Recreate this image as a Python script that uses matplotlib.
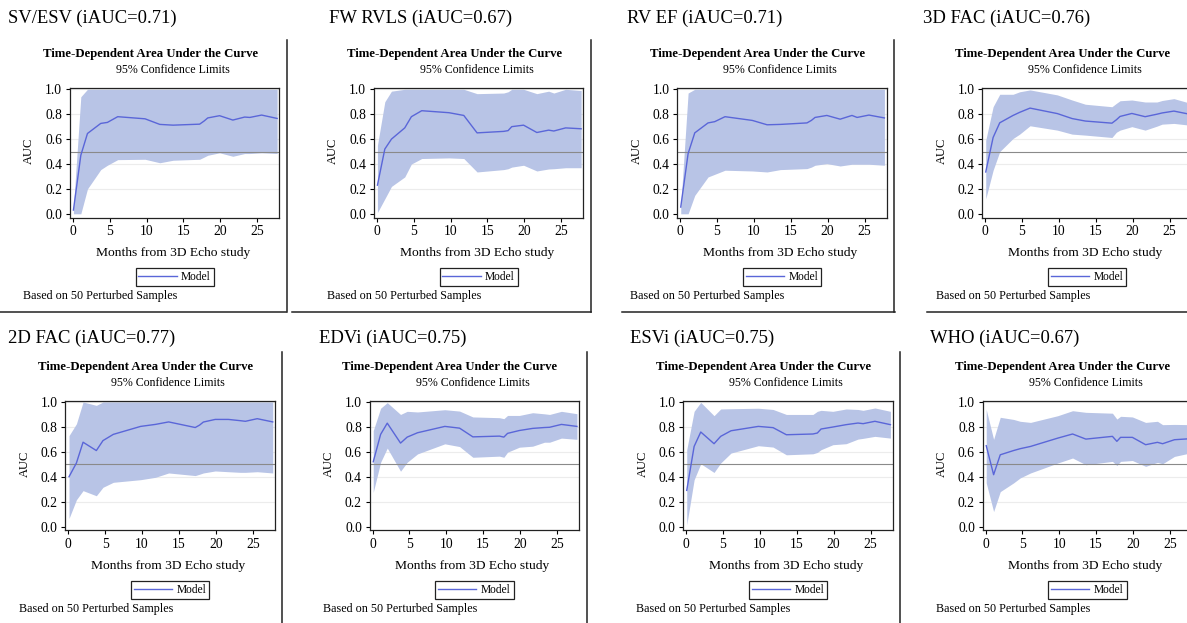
import matplotlib
matplotlib.use("Agg")
import matplotlib.pyplot as plt
from matplotlib.lines import Line2D

plt.rcParams['font.family'] = ['Liberation Serif', 'DejaVu Serif']

# ---------------- data ----------------
months = [0.1, 1.1, 2.0, 3.8, 4.7, 6.1, 9.8, 11.8, 13.6, 17.2, 17.8, 18.3, 19.9, 21.7, 23.3, 24.0, 25.6, 27.7]

titles = ["SV/ESV (iAUC=0.71)", "FW RVLS (iAUC=0.67)", "RV EF (iAUC=0.71)", "3D FAC (iAUC=0.76)",
          "2D FAC (iAUC=0.77)", "EDVi (iAUC=0.75)", "ESVi (iAUC=0.75)", "WHO (iAUC=0.67)"]

sv_esv_auc = [0.03, 0.47, 0.645, 0.726, 0.734, 0.78, 0.763, 0.718, 0.712, 0.72, 0.745, 0.77, 0.788, 0.753, 0.777, 0.774, 0.793, 0.766]
sv_esv_lo = [0.0, 0.0, 0.20, 0.355, 0.39, 0.435, 0.438, 0.41, 0.43, 0.438, 0.455, 0.47, 0.49, 0.462, 0.484, 0.484, 0.49, 0.484]
sv_esv_hi = [0.05, 0.94, 1.0, 1.0, 1.0, 1.0, 1.0, 1.0, 1.0, 1.0, 1.0, 1.0, 1.0, 1.0, 1.0, 1.0, 1.0, 1.0]

fw_rvls_auc = [0.23, 0.52, 0.60, 0.69, 0.78, 0.828, 0.812, 0.79, 0.65, 0.662, 0.668, 0.70, 0.712, 0.653, 0.672, 0.665, 0.69, 0.683]
fw_rvls_lo = [0.01, 0.12, 0.22, 0.296, 0.40, 0.444, 0.449, 0.444, 0.336, 0.355, 0.362, 0.375, 0.39, 0.344, 0.36, 0.362, 0.37, 0.37]
fw_rvls_hi = [0.55, 0.90, 0.985, 1.0, 1.0, 1.0, 1.0, 1.0, 0.965, 0.97, 0.98, 1.0, 1.0, 0.965, 0.985, 0.97, 1.0, 0.99]

rv_ef_auc = [0.054, 0.484, 0.65, 0.73, 0.74, 0.78, 0.75, 0.715, 0.718, 0.73, 0.75, 0.774, 0.79, 0.76, 0.79, 0.774, 0.793, 0.77]
rv_ef_lo = [0.0, 0.0, 0.148, 0.296, 0.317, 0.35, 0.344, 0.336, 0.355, 0.363, 0.375, 0.39, 0.403, 0.384, 0.398, 0.398, 0.398, 0.39]
rv_ef_hi = [0.06, 0.97, 1.0, 1.0, 1.0, 1.0, 1.0, 1.0, 1.0, 1.0, 1.0, 1.0, 1.0, 1.0, 1.0, 1.0, 1.0, 1.0]

fac3d_auc = [0.336, 0.613, 0.731, 0.79, 0.815, 0.849, 0.805, 0.765, 0.745, 0.728, 0.755, 0.782, 0.806, 0.78, 0.80, 0.81, 0.825, 0.80]
fac3d_lo = [0.12, 0.35, 0.50, 0.605, 0.64, 0.707, 0.672, 0.64, 0.632, 0.613, 0.655, 0.672, 0.70, 0.672, 0.704, 0.72, 0.726, 0.712]
fac3d_hi = [0.59, 0.86, 0.96, 0.96, 0.98, 0.995, 0.955, 0.914, 0.88, 0.86, 0.887, 0.908, 0.914, 0.898, 0.898, 0.91, 0.925, 0.89]

fac2d_auc = [0.40, 0.51, 0.677, 0.61, 0.69, 0.74, 0.804, 0.82, 0.84, 0.795, 0.815, 0.839, 0.86, 0.86, 0.85, 0.845, 0.866, 0.84]
fac2d_lo = [0.065, 0.215, 0.288, 0.247, 0.315, 0.355, 0.376, 0.395, 0.43, 0.409, 0.42, 0.43, 0.446, 0.44, 0.435, 0.435, 0.44, 0.43]
fac2d_hi = [0.73, 0.825, 1.0, 0.973, 1.0, 1.0, 1.0, 1.0, 1.0, 1.0, 1.0, 1.0, 1.0, 1.0, 1.0, 1.0, 1.0, 1.0]

edvi_auc = [0.52, 0.74, 0.83, 0.67, 0.718, 0.753, 0.804, 0.79, 0.72, 0.726, 0.718, 0.748, 0.771, 0.788, 0.795, 0.797, 0.82, 0.804]
edvi_lo = [0.274, 0.516, 0.63, 0.444, 0.516, 0.583, 0.664, 0.642, 0.556, 0.565, 0.556, 0.597, 0.637, 0.645, 0.677, 0.677, 0.71, 0.70]
edvi_hi = [0.77, 0.95, 0.995, 0.90, 0.925, 0.92, 0.938, 0.927, 0.88, 0.874, 0.866, 0.892, 0.892, 0.914, 0.905, 0.90, 0.925, 0.906]

esvi_auc = [0.29, 0.643, 0.759, 0.665, 0.724, 0.769, 0.804, 0.794, 0.737, 0.743, 0.751, 0.783, 0.799, 0.818, 0.831, 0.826, 0.845, 0.818]
esvi_lo = [0.013, 0.375, 0.504, 0.434, 0.51, 0.59, 0.649, 0.638, 0.576, 0.584, 0.595, 0.617, 0.657, 0.665, 0.702, 0.708, 0.724, 0.71]
esvi_hi = [0.617, 0.925, 0.997, 0.89, 0.944, 0.946, 0.95, 0.94, 0.90, 0.90, 0.925, 0.933, 0.925, 0.944, 0.94, 0.933, 0.952, 0.925]

who_auc = [0.649, 0.416, 0.576, 0.61, 0.625, 0.643, 0.71, 0.743, 0.702, 0.724, 0.684, 0.716, 0.716, 0.657, 0.676, 0.665, 0.697, 0.705]
who_lo = [0.35, 0.12, 0.28, 0.35, 0.39, 0.43, 0.51, 0.55, 0.496, 0.523, 0.49, 0.523, 0.53, 0.483, 0.515, 0.504, 0.563, 0.59]
who_hi = [0.94, 0.70, 0.877, 0.86, 0.845, 0.836, 0.89, 0.93, 0.917, 0.91, 0.863, 0.885, 0.88, 0.836, 0.845, 0.818, 0.82, 0.818]

auc_series = [sv_esv_auc, fw_rvls_auc, rv_ef_auc, fac3d_auc, fac2d_auc, edvi_auc, esvi_auc, who_auc]
lo_series = [sv_esv_lo, fw_rvls_lo, rv_ef_lo, fac3d_lo, fac2d_lo, edvi_lo, esvi_lo, who_lo]
hi_series = [sv_esv_hi, fw_rvls_hi, rv_ef_hi, fac3d_hi, fac2d_hi, edvi_hi, esvi_hi, who_hi]

x_ticks = [0, 5, 10, 15, 20, 25]
y_ticks = [0.0, 0.2, 0.4, 0.6, 0.8, 1.0]
y_ticklabels = ["0.0", "0.2", "0.4", "0.6", "0.8", "1.0"]

# ---------------- layout (pixels) ----------------
W, H = 1187, 623
x0_px = [72.7, 376.7, 680, 985, 68.3, 372.5, 686, 985.5]     # pixel position of x=0
y1_px = [89.3, 89.3, 89.3, 89.3, 402, 402, 402, 402]          # pixel position of AUC=1.0
title_x = [8, 329, 627, 923, 8, 319, 630, 930]
title_y = [18.8, 18.8, 18.8, 18.8, 338.5, 338.5, 338.5, 338.5]
SX, SY = 7.38, 124.5
XLIM = (-0.4, 28.0)
YLIM = (-0.03, 1.01)

LINE_C = '#5A66D8'
FILL_C = '#B8C4E6'

fig = plt.figure(figsize=(W / 100, H / 100), dpi=100)


def fx(x):
    return x / W


def fy(y):
    return 1 - y / H


for i in range(8):
    x0, y1 = x0_px[i], y1_px[i]
    left = x0 + XLIM[0] * SX
    width = (XLIM[1] - XLIM[0]) * SX
    top = y1 - (YLIM[1] - 1.0) * SY
    height = (YLIM[1] - YLIM[0]) * SY
    ax = fig.add_axes([fx(left), fy(top + height), width / W, height / H])
    ax.set_xlim(*XLIM)
    ax.set_ylim(*YLIM)
    for yt in y_ticks[1:]:
        ax.axhline(yt, color='#ECECEC', lw=0.8, zorder=0)
    ax.fill_between(months, lo_series[i], hi_series[i], color=FILL_C, lw=0, zorder=1)
    ax.axhline(0.5, color='#8A8A8A', lw=0.8, zorder=2)
    ax.plot(months, auc_series[i], color=LINE_C, lw=1.0, zorder=3)
    ax.set_xticks(x_ticks)
    ax.set_yticks(y_ticks)
    ax.set_yticklabels(y_ticklabels)
    ax.tick_params(direction='out', length=3, width=0.8, labelsize=9.8, pad=2.5, colors='black')
    for s in ax.spines.values():
        s.set_linewidth(0.9)
        s.set_color('#222222')

    # texts
    fig.text(fx(title_x[i]), fy(title_y[i]), titles[i], fontsize=13.4, ha='left', va='center')
    fig.text(fx(x0 + 77.5), fy(y1 - 35), "Time-Dependent Area Under the Curve",
             fontsize=9.2, fontweight='bold', ha='center', va='center')
    fig.text(fx(x0 + 100), fy(y1 - 19.5), "95% Confidence Limits", fontsize=8.6, ha='center', va='center')
    fig.text(fx(x0 + 100), fy(y1 + 164), "Months from 3D Echo study", fontsize=9.7, ha='center', va='center')
    fig.text(fx(x0 - 43.4), fy(y1 + 62), "AUC", fontsize=9, rotation=90, ha='center', va='center')
    fig.text(fx(x0 - 49.5), fy(y1 + 207), "Based on 50 Perturbed Samples", fontsize=8.7, ha='left', va='center')

    handle = Line2D([], [], color=LINE_C, lw=1.0)
    leg = ax.legend([handle], ["Model"], loc='center',
                    bbox_to_anchor=(fx(x0 + 102), fy(y1 + 188)), bbox_transform=fig.transFigure,
                    frameon=True, fancybox=False, edgecolor='#222222', framealpha=1,
                    borderpad=0.25, handlelength=3.3, handletextpad=0.4, borderaxespad=0,
                    fontsize=8.3)
    leg.get_frame().set_linewidth(0.9)

    # panel frame lines
    if i < 4:
        fig.add_artist(Line2D([fx(x0 + 214), fx(x0 + 214)], [fy(40), fy(312)], color='#222222', lw=1.1))
    else:
        fig.add_artist(Line2D([fx(x0 + 214), fx(x0 + 214)], [fy(352), fy(623)], color='#222222', lw=1.1))

# horizontal separators under the top row
for a, b in [(0, 286), (292, 591), (622, 895), (927, 1187)]:
    fig.add_artist(Line2D([fx(a), fx(b)], [fy(312), fy(312)], color='#222222', lw=1.1))

fig.savefig("out.png", dpi=100)
